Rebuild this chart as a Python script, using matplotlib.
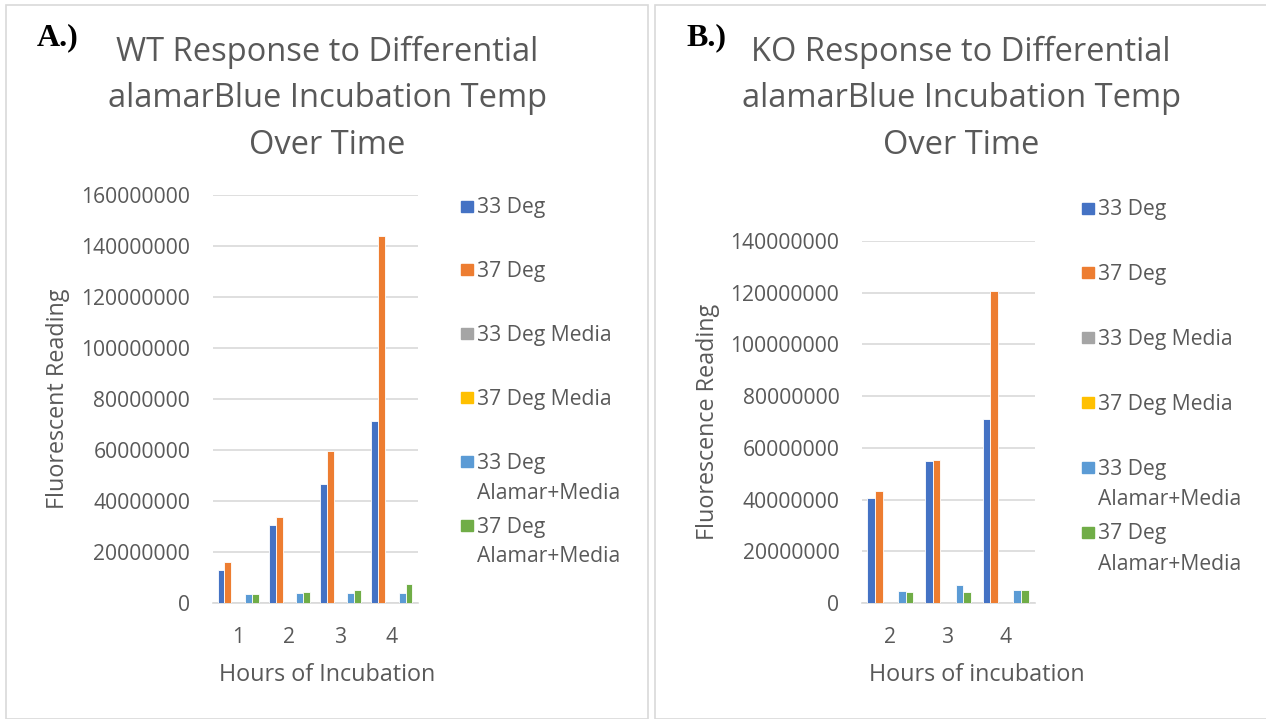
import matplotlib.pyplot as plt
from matplotlib.patches import Rectangle
import numpy as np

# lecturas de fluorescencia por hora de incubacion
series = ["33 Deg", "37 Deg", "33 Deg Media", "37 Deg Media",
          "33 Deg\nAlamar+Media", "37 Deg\nAlamar+Media"]
colors = ["#4472C4", "#ED7D31", "#A5A5A5", "#FFC000", "#5B9BD5", "#70AD47"]

wt_hours = [1, 2, 3, 4]
wt_33 = [13.1e6, 30.5e6, 46.7e6, 71.3e6]
wt_37 = [16.0e6, 33.6e6, 59.8e6, 143.8e6]
wt_33_media = [0, 0, 0, 0]
wt_37_media = [0, 0, 0, 0]
wt_33_alamar = [3.4e6, 4.0e6, 4.1e6, 3.8e6]
wt_37_alamar = [3.7e6, 4.4e6, 5.0e6, 7.3e6]

ko_hours = [2, 3, 4]
ko_33 = [40.6e6, 55.0e6, 71.2e6]
ko_37 = [43.4e6, 55.4e6, 120.8e6]
ko_33_media = [0, 0, 0]
ko_37_media = [0, 0, 0]
ko_33_alamar = [4.6e6, 7.1e6, 5.0e6]
ko_37_alamar = [4.4e6, 4.1e6, 5.0e6]

TXT = "#595959"
GRID = "#D9D9D9"
FONT = "Open Sans"
plt.rcParams["font.family"] = [FONT, "DejaVu Sans"]

W, H = 1266, 719
fig = plt.figure(figsize=(W / 100, H / 100), dpi=100)


def fx(px):
    return px / W


def fy(py):
    return 1 - py / H


def panel(rect, hours, values, ymax, xlabel, ylabel, title, tag, frame,
          title_x, xlabel_x, ylabel_x, leg_x, leg_y, leg_step):
    # marco del grafico
    fig.patches.append(Rectangle((fx(frame[0]), 0), fx(frame[1] - frame[0]), fy(5),
                                 transform=fig.transFigure, fill=False,
                                 edgecolor=GRID, linewidth=1.2))
    ax = fig.add_axes(rect)
    x = np.arange(len(hours))
    step = 0.133
    for i, vals in enumerate(values):
        ax.bar(x + (i - 2.5) * step, vals, width=step, color=colors[i],
               edgecolor="white", linewidth=0.6, zorder=3)
    ax.set_xlim(-0.5, len(hours) - 0.5)
    ax.set_ylim(0, ymax)
    ax.set_yticks(np.arange(0, ymax + 1, 20000000))
    ax.set_yticklabels([f"{int(v)}" for v in np.arange(0, ymax + 1, 20000000)])
    ax.set_xticks(x)
    ax.set_xticklabels([str(h) for h in hours])
    ax.grid(axis="y", color=GRID, linewidth=1.2, zorder=0)
    for s in ["top", "right", "left"]:
        ax.spines[s].set_visible(False)
    ax.spines["bottom"].set_color(GRID)
    ax.spines["bottom"].set_linewidth(1.2)
    ax.tick_params(axis="y", length=0, pad=16, labelsize=15.2, labelcolor=TXT)
    ax.tick_params(axis="x", length=0, pad=17, labelsize=15.2, labelcolor=TXT)

    fig.text(fx(title_x), fy(36), title, ha="center", va="top", fontsize=23.5,
             color=TXT, linespacing=1.53)
    fig.text(fx(tag), fy(45), tag_label[tag], ha="left", va="baseline",
             fontsize=23, fontweight="bold", family="Liberation Serif", color="black")
    fig.text(fx(xlabel_x), fy(675), xlabel, ha="center", va="center",
             fontsize=16.8, color=TXT)
    fig.text(fx(ylabel_x), rect[1] + rect[3] / 2, ylabel, ha="center", va="center",
             rotation=90, fontsize=16.8, color=TXT)

    # leyenda
    for i, name in enumerate(series):
        yc = leg_y + i * leg_step
        fig.patches.append(Rectangle((fx(leg_x), fy(yc + 5.5)), fx(12), 11 / H,
                                     transform=fig.transFigure, color=colors[i]))
        for k, line in enumerate(name.split("\n")):
            fig.text(fx(leg_x + 16), fy(yc + 7.5 + k * 30), line, ha="left",
                     va="baseline", fontsize=15.2, color=TXT)
    return ax


tag_label = {37: "A.)", 686: "B.)"}

panel([fx(212.5), fy(603), fx(205), 408 / H], wt_hours,
      [wt_33, wt_37, wt_33_media, wt_37_media, wt_33_alamar, wt_37_alamar],
      160000000, "Hours of Incubation", "Fluorescent Reading",
      "WT Response to Differential\nalamarBlue Incubation Temp\nOver Time",
      37, (6, 648), 327, 327.5, 58, 461, 206, 63.8)

panel([fx(861.6), fy(603), fx(173), 362 / H], ko_hours,
      [ko_33, ko_37, ko_33_media, ko_37_media, ko_33_alamar, ko_37_alamar],
      140000000, "Hours of incubation", "Fluorescence Reading",
      "KO Response to Differential\nalamarBlue Incubation Temp\nOver Time",
      686, (655, 1280), 961, 977, 708, 1082, 208, 64.8)

fig.savefig("out.png", dpi=100)
